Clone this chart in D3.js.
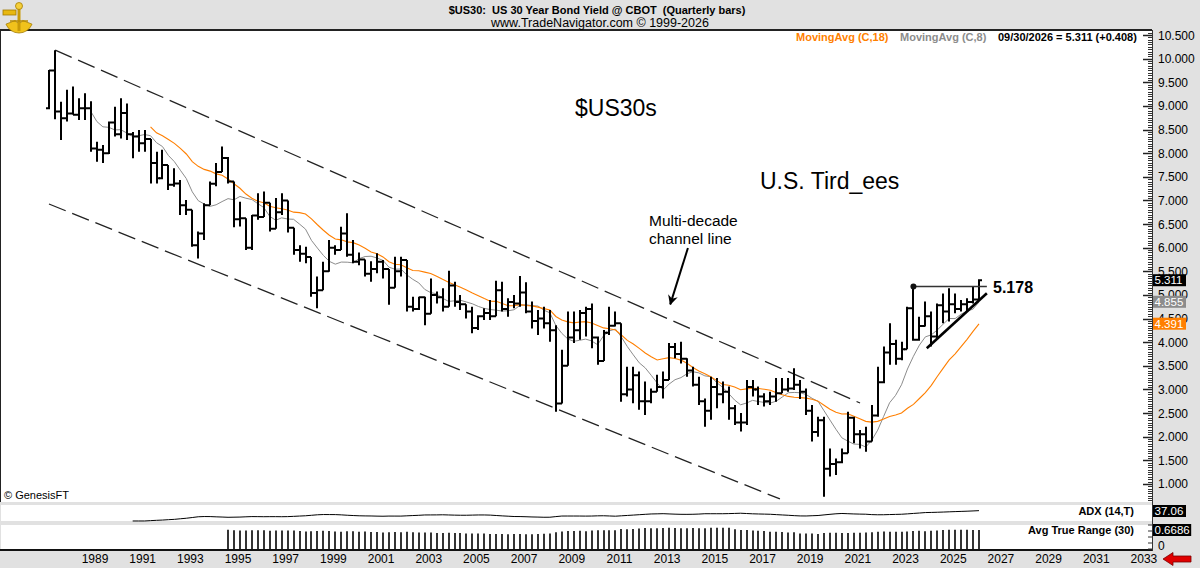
<!DOCTYPE html>
<html>
<head>
<meta charset="utf-8">
<script src="https://cdn.jsdelivr.net/npm/d3@7/dist/d3.min.js"></script>
<style>
  html, body { margin: 0; padding: 0; background: #e1e1e1; }
  svg.drawing { display: block; font-family: Arial, 'Liberation Sans', sans-serif; }
  .pre { white-space: pre; }
</style>
</head>
<body>
<svg class="drawing" width="1200" height="568"></svg>
<script>
// quarterly bars, the first one is 1987 Q3, one row per calendar year
const startYear = 1987
const startQuarter = 3

const opens = [
  8.95, 9.75,
  8.88, 8.74, 8.84, 8.81,  8.95, 8.95, 8.10, 8.07,  8.00, 8.65, 8.40, 8.85,  8.40, 8.35, 8.21, 8.30,
  7.79, 7.47, 7.75, 7.33,  7.36, 6.90, 6.80, 6.05,  6.30, 6.90, 7.35, 7.60,  7.90, 7.40, 6.60, 6.62,
  6.00, 6.68, 6.65, 6.95,  6.40, 6.75, 7.00, 6.42,  5.95, 5.87, 5.80, 5.04,  5.10, 5.50, 6.00, 5.95,
  6.30, 5.85, 5.70, 5.75,  5.45, 5.55, 5.70, 5.55,  5.15, 5.50, 5.74, 4.75,  4.70, 4.95, 4.60, 5.00,
  4.95, 4.75, 5.20, 4.85,  4.80, 4.65, 4.30, 4.55,  4.62, 4.55, 5.10, 4.70,  4.85, 4.82, 5.05, 4.65,
  4.45, 4.50, 4.40, 4.25,  2.70, 3.50, 4.10, 4.25,  4.62, 4.70, 4.10, 3.60,  4.20, 4.35, 4.40, 2.90,
  3.00, 3.30, 2.75, 2.75,  2.95, 3.05, 3.20, 3.90,  3.75, 3.65, 3.40, 3.10,  2.75, 2.55, 3.05, 2.90,
  2.95, 2.60, 2.30, 2.30,  3.05, 3.00, 2.85, 2.75,  2.85, 2.92, 3.00, 3.02,  3.10, 2.95, 2.55, 2.10,
  2.35, 1.32, 1.42, 1.46,  1.65, 2.40, 2.05, 2.05,  1.90, 2.45, 3.15, 3.78,  3.96, 3.65, 3.85, 4.72,
  4.05, 4.34, 4.55, 4.12,  4.78, 4.65, 4.80, 4.70,
  4.80, 4.85, 4.903
]
const highs = [
  9.76, 10.18,
  9.09, 9.34, 9.41, 9.16,  9.27, 9.10, 8.24, 8.17,  8.67, 8.98, 9.16, 9.05,  8.45, 8.49, 8.49, 8.30,
  8.03, 8.07, 7.75, 7.68,  7.43, 7.01, 6.80, 6.34,  6.94, 7.40, 7.79, 8.14,  7.92, 7.40, 6.97, 6.62,
  6.69, 7.15, 7.19, 6.95,  7.05, 7.15, 7.00, 6.42,  6.05, 6.02, 5.80, 5.39,  5.70, 6.16, 6.05, 6.44,
  6.73, 6.16, 5.90, 5.75,  5.71, 5.88, 5.74, 5.55,  5.81, 5.81, 5.74, 4.96,  4.96, 4.96, 5.35, 5.07,
  5.14, 5.51, 5.28, 5.00,  4.80, 4.75, 4.57, 4.72,  4.89, 5.30, 5.28, 4.93,  5.00, 5.40, 5.27, 4.86,
  4.68, 4.75, 4.68, 4.36,  3.84, 4.65, 4.65, 4.68,  4.75, 4.82, 4.12, 4.26,  4.75, 4.65, 4.40, 3.48,
  3.48, 3.38, 3.17, 3.02,  3.31, 3.38, 3.98, 3.98,  4.01, 3.66, 3.48, 3.27,  2.81, 3.27, 3.24, 3.17,
  3.06, 2.67, 2.50, 3.20,  3.20, 3.06, 2.92, 2.95,  3.24, 3.24, 3.24, 3.45,  3.20, 3.02, 2.67, 2.42,
  2.42, 1.75, 1.54, 1.75,  2.53, 2.42, 2.14, 2.21,  2.67, 3.48, 3.91, 4.40,  4.05, 4.01, 4.75, 5.178,
  4.54, 4.86, 4.65, 4.82,  5.03, 5.14, 5.03, 4.89,
  4.93, 5.17, 5.33
]
const lows = [
  8.93, 8.72,
  8.28, 8.67, 8.81, 8.70,  8.70, 8.03, 7.82, 7.79,  7.98, 8.35, 8.31, 8.28,  7.89, 8.03, 8.03, 7.36,
  7.36, 7.45, 7.22, 7.29,  6.69, 6.69, 6.02, 5.77,  6.16, 6.90, 7.30, 7.60,  7.36, 6.43, 6.45, 5.95,
  5.95, 6.59, 6.65, 6.34,  6.40, 6.69, 6.32, 5.85,  5.70, 5.67, 4.96, 4.72,  5.10, 5.49, 5.85, 5.95,
  5.81, 5.67, 5.63, 5.39,  5.28, 5.46, 5.35, 4.79,  5.15, 5.39, 4.65, 4.65,  4.68, 4.36, 4.60, 4.82,
  4.65, 4.75, 4.75, 4.68,  4.50, 4.19, 4.26, 4.47,  4.47, 4.55, 4.65, 4.54,  4.72, 4.75, 4.61, 4.29,
  4.15, 4.29, 4.01, 2.53,  2.70, 3.50, 3.98, 4.05,  4.12, 3.87, 3.52, 3.60,  4.15, 4.33, 2.74, 2.85,
  2.71, 2.57, 2.46, 2.71,  2.95, 2.81, 3.20, 3.66,  3.55, 3.27, 3.06, 2.67,  2.21, 2.36, 2.60, 2.71,
  2.36, 2.25, 2.11, 2.25,  2.85, 2.67, 2.64, 2.67,  2.74, 2.92, 2.95, 2.99,  2.80, 2.46, 1.90, 2.00,
  0.73, 1.16, 1.19, 1.44,  1.65, 1.86, 1.75, 1.68,  1.90, 2.42, 3.13, 3.52,  3.52, 3.62, 3.85, 4.03,
  4.03, 4.33, 3.91, 4.08,  4.40, 4.44, 4.61, 4.65,
  4.65, 4.82, 4.89
]
const closes = [
  9.75, 8.88,
  8.74, 8.84, 8.81, 8.95,  8.95, 8.10, 8.07, 8.00,  8.65, 8.40, 8.85, 8.40,  8.35, 8.21, 8.30, 7.79,
  7.47, 7.75, 7.33, 7.36,  6.90, 6.80, 6.05, 6.30,  6.90, 7.35, 7.60, 7.90,  7.40, 6.60, 6.62, 6.00,
  6.68, 6.65, 6.95, 6.40,  6.75, 7.00, 6.42, 5.95,  5.87, 5.80, 5.04, 5.10,  5.50, 6.00, 5.95, 6.30,
  5.85, 5.70, 5.75, 5.45,  5.55, 5.70, 5.55, 5.15,  5.50, 5.74, 4.75, 4.70,  4.95, 4.60, 5.00, 4.95,
  4.75, 5.20, 4.85, 4.80,  4.65, 4.30, 4.55, 4.62,  4.55, 5.10, 4.70, 4.85,  4.82, 5.05, 4.65, 4.45,
  4.50, 4.40, 4.25, 2.70,  3.50, 4.10, 4.25, 4.62,  4.70, 4.10, 3.60, 4.20,  4.35, 4.40, 2.90, 3.00,
  3.30, 2.75, 2.75, 2.95,  3.05, 3.20, 3.90, 3.75,  3.65, 3.40, 3.10, 2.75,  2.55, 3.05, 2.90, 2.95,
  2.60, 2.30, 2.30, 3.05,  3.00, 2.85, 2.75, 2.85,  2.92, 3.00, 3.02, 3.10,  2.95, 2.55, 2.10, 2.35,
  1.32, 1.42, 1.46, 1.65,  2.40, 2.05, 2.05, 1.90,  2.45, 3.15, 3.78, 3.96,  3.65, 3.85, 4.72, 4.05,
  4.34, 4.55, 4.12, 4.78,  4.65, 4.80, 4.70, 4.80,
  4.85, 4.903, 5.311
]

const yearLabels = [1989, 1991, 1993, 1995, 1997, 1999, 2001, 2003, 2005, 2007, 2009, 2011,
  2013, 2015, 2017, 2019, 2021, 2023, 2025, 2027, 2029, 2031, 2033]

// readouts printed on the chart
const lastDate = '09/30/2026'
const lastClose = 5.311
const lastChange = 0.408
const lastMa18 = 4.391
const lastMa8 = 4.855
const lastAdx = 37.06
const lastAtr = 0.6686
const triangleTop = 5.178

// drawn lines, [year, yield]
const upperChannel = [[1987.75, 10.18], [2021.51, 2.713]]
const lowerChannel = [[1987.49, 6.924], [2018.15, 0.682]]
const risingLine = [[2024.31, 3.871], [2026.83, 5.035]]
const flatLine = [[2023.75, 5.178], [2026.83, 5.178]]
const noteArrow = [[2014.29, 5.993], [2013.55, 4.80]]

const plotRight = 1152
const panels = {
  main: { top: 31, bottom: 502 },
  adx: { top: 505, bottom: 521 },
  atr: { top: 525, bottom: 549 }
}
const colors = {
  band: '#e1e1e1',
  orange: '#ff7f00',
  gray: '#8c8c8c'
}

const bars = closes.map((c, i) => ({
  t: startYear + (startQuarter - 1 + i) / 4,
  open: opens[i],
  high: highs[i],
  low: lows[i],
  close: c
}))

const sma = (values, n) => values.map((v, i) => i < n - 1 ? null : d3.mean(values.slice(i - n + 1, i + 1)))
const ma18 = sma(closes, 18)
const ma8 = sma(closes, 8)

const trueRange = bars.map((d, i) => i === 0
  ? null
  : Math.max(d.high, bars[i - 1].close) - Math.min(d.low, bars[i - 1].close))
const atr30 = trueRange.map((v, i) => i < 30 ? null : d3.mean(trueRange.slice(i - 29, i + 1)))

const buildAdx = n => {
  const out = bars.map(() => null)
  let sTr = 0, sPlus = 0, sMinus = 0, a = 0
  for (let i = 1; i < bars.length; i++) {
    const up = bars[i].high - bars[i - 1].high
    const down = bars[i - 1].low - bars[i].low
    const plus = up > down && up > 0 ? up : 0
    const minus = down > up && down > 0 ? down : 0
    if (i <= n) {
      sTr += trueRange[i]; sPlus += plus; sMinus += minus
    } else {
      sTr = sTr - sTr / n + trueRange[i]
      sPlus = sPlus - sPlus / n + plus
      sMinus = sMinus - sMinus / n + minus
    }
    if (i < n) continue
    const pdi = 100 * sPlus / sTr
    const mdi = 100 * sMinus / sTr
    const dx = pdi + mdi === 0 ? 0 : 100 * Math.abs(pdi - mdi) / (pdi + mdi)
    a = a + (dx - a) / n
    out[i] = a
  }
  return out
}
const adx14 = buildAdx(14)

// scales
const x = d3.scaleLinear().domain([1985.435, 2033.757]).range([0, plotRight])
const y = d3.scaleLinear().domain([0.618, 10.606]).range([502, 30])
const yAdx = d3.scaleLinear().domain([0, 60]).range([panels.adx.bottom, panels.adx.top])
const yAtr = d3.scaleLinear().domain([0, 0.8]).range([panels.atr.bottom, panels.atr.top])

const svg = d3.select('svg.drawing')

// frame
svg.append('rect').attr('width', 1200).attr('height', 568).attr('fill', colors.band)
Object.values(panels).forEach(p => {
  svg.append('rect')
    .attr('x', 1).attr('y', p.top)
    .attr('width', plotRight - 1).attr('height', p.bottom - p.top)
    .attr('fill', '#fff')
})
svg.append('line').attr('x1', 0).attr('x2', plotRight).attr('y1', 30).attr('y2', 30)
  .attr('stroke', '#222').attr('stroke-width', 2)
svg.append('line').attr('x1', 0.5).attr('x2', 0.5).attr('y1', 30).attr('y2', panels.main.bottom)
  .attr('stroke', '#222')
svg.append('line').attr('x1', 0).attr('x2', plotRight).attr('y1', 550).attr('y2', 550)
  .attr('stroke', '#111').attr('stroke-width', 2)
svg.append('line').attr('x1', plotRight + 0.5).attr('x2', plotRight + 0.5).attr('y1', 30).attr('y2', 551)
  .attr('stroke', '#333')

// header
const logo = svg.append('g').attr('transform', 'translate(19, 19)')
logo.append('path')
  .attr('d', d3.arc()({ innerRadius: 4, outerRadius: 14, startAngle: Math.PI * 0.62, endAngle: Math.PI * 1.38 }))
  .attr('fill', '#f0c21c').attr('stroke', '#a47c00').attr('stroke-width', 0.8)
logo.append('rect').attr('x', -16).attr('y', -9).attr('width', 13).attr('height', 5)
  .attr('fill', '#e8b810').attr('stroke', '#a47c00').attr('stroke-width', 0.8)
logo.append('line').attr('x1', 0).attr('x2', 0).attr('y1', -14).attr('y2', 12)
  .attr('stroke', '#c89a08').attr('stroke-width', 3)
logo.append('circle').attr('cx', 0).attr('cy', -13).attr('r', 3.5)
  .attr('fill', '#f5cf3a').attr('stroke', '#a47c00').attr('stroke-width', 0.8)
logo.append('line').attr('x1', -9).attr('x2', 9).attr('y1', 2).attr('y2', 2)
  .attr('stroke', '#b88d05').attr('stroke-width', 1.5)

svg.append('text').attr('class', 'pre')
  .attr('x', 597).attr('y', 13.5).attr('text-anchor', 'middle')
  .attr('font-size', 11).attr('font-weight', 'bold')
  .text('$US30:  US 30 Year Bond Yield @ CBOT  (Quarterly bars)')
svg.append('text')
  .attr('x', 600).attr('y', 27).attr('text-anchor', 'middle')
  .attr('font-size', 12.5)
  .text('www.TradeNavigator.com © 1999-2026')

// legend
const legend = svg.append('g').attr('font-size', 11).attr('font-weight', 'bold')
legend.append('text').attr('x', 796).attr('y', 41).attr('fill', colors.orange).text('MovingAvg (C,18)')
legend.append('text').attr('x', 900).attr('y', 41).attr('fill', colors.gray).text('MovingAvg (C,8)')
legend.append('text').attr('x', 998).attr('y', 41).attr('fill', '#000')
  .text(`${lastDate} = ${lastClose.toFixed(3)} (+${lastChange.toFixed(3)})`)

// channel lines
const line2 = d3.line().x(d => x(d[0])).y(d => y(d[1]))
const main = svg.append('g')
main.selectAll('path.channel').data([upperChannel, lowerChannel]).enter()
  .append('path').attr('class', 'channel')
  .attr('d', line2)
  .attr('fill', 'none').attr('stroke', '#222').attr('stroke-width', 1.3)
  .attr('stroke-dasharray', '18,7')

// moving averages
const maLine = series => d3.line()
  .defined((d, i) => series[i] !== null)
  .x(d => x(d.t))
  .y((d, i) => y(series[i]))
main.append('path').datum(bars).attr('d', maLine(ma8))
  .attr('fill', 'none').attr('stroke', colors.gray).attr('stroke-width', 1)
main.append('path').datum(bars).attr('d', maLine(ma18))
  .attr('fill', 'none').attr('stroke', colors.orange).attr('stroke-width', 1.1)

// price bars
main.append('g').attr('class', 'bars')
  .selectAll('path').data(bars).enter()
  .append('path')
  .attr('d', d => {
    const cx = Math.round(x(d.t))
    return `M${cx},${y(d.high)}V${y(d.low)}` +
      `M${cx - 3},${y(d.open)}H${cx}` +
      `M${cx},${y(d.close)}H${cx + 3}`
  })
  .attr('fill', 'none').attr('stroke', '#000').attr('stroke-width', 2)

// triangle on the latest bars
main.append('path').datum(flatLine).attr('d', line2)
  .attr('stroke', '#333').attr('stroke-width', 1.5)
main.append('circle').attr('cx', x(flatLine[0][0])).attr('cy', y(triangleTop)).attr('r', 3)
  .attr('fill', '#111')
main.append('path').datum(risingLine).attr('d', line2)
  .attr('stroke', '#000').attr('stroke-width', 2.6)
main.append('text').attr('x', 993).attr('y', y(triangleTop) + 6)
  .attr('font-size', 16).attr('font-weight', 'bold').text(triangleTop.toFixed(3))

// notes
main.append('text').attr('x', 575).attr('y', 116).attr('font-size', 23).text('$US30s')
main.append('text').attr('x', 760).attr('y', 189).attr('font-size', 23).text('U.S. Tird_ees')
main.append('text').attr('x', 649).attr('y', 226).attr('font-size', 15.5).text('Multi-decade')
main.append('text').attr('x', 649).attr('y', 244).attr('font-size', 15.5).text('channel line')
const defs = svg.append('defs')
defs.append('marker').attr('id', 'head')
  .attr('viewBox', '0 0 10 10').attr('refX', 9).attr('refY', 5)
  .attr('markerWidth', 5).attr('markerHeight', 5).attr('orient', 'auto')
  .append('path').attr('d', 'M0,0L10,5L0,10L3,5Z').attr('fill', '#000')
main.append('path').datum(noteArrow).attr('d', line2)
  .attr('stroke', '#000').attr('stroke-width', 2).attr('marker-end', 'url(#head)')
main.append('text').attr('x', 4).attr('y', 499).attr('font-size', 11).text('© GenesisFT')

// right price axis
const axis = svg.append('g')
const minor = y.ticks(200).filter(v => v > 0.64 && v < 10.6)
const major = y.ticks(20).filter(v => v >= 1 && v <= 10.5)
axis.selectAll('line.minor').data(minor).enter().append('line')
  .attr('x1', plotRight - 4).attr('x2', plotRight)
  .attr('y1', d => Math.round(y(d)) + 0.5).attr('y2', d => Math.round(y(d)) + 0.5)
  .attr('stroke', '#333')
axis.selectAll('line.major').data(major).enter().append('line')
  .attr('x1', plotRight - 9).attr('x2', plotRight)
  .attr('y1', d => Math.round(y(d)) + 0.5).attr('y2', d => Math.round(y(d)) + 0.5)
  .attr('stroke', '#222').attr('stroke-width', 1.5)
axis.selectAll('text').data(major).enter().append('text')
  .attr('x', 1158).attr('y', d => y(d) + 4.5)
  .attr('font-size', 12).text(d3.format('.3f'))

// value flags on the axis, sized to their text
const flag = (value, yPos, fill, fmt) => {
  const g = svg.append('g').attr('transform', `translate(1153, ${yPos})`)
  const rect = g.append('rect').attr('x', 0).attr('y', -6).attr('height', 12).attr('fill', fill)
  const label = g.append('text').attr('x', 1.5).attr('y', 4.2)
    .attr('font-size', 11.5).attr('fill', '#fff').text(fmt(value))
  const w = label.node().getComputedTextLength()
  rect.attr('width', Math.max(33, w + 3))
}
flag(lastClose, y(lastClose), '#000', d3.format('.3f'))
flag(lastMa8, y(lastMa8), colors.gray, d3.format('.3f'))
flag(lastMa18, y(lastMa18), colors.orange, d3.format('.3f'))

// ADX panel
svg.append('path').datum(bars)
  .attr('d', d3.line()
    .defined((d, i) => adx14[i] !== null)
    .x(d => x(d.t))
    .y((d, i) => yAdx(adx14[i])))
  .attr('fill', 'none').attr('stroke', '#000').attr('stroke-width', 1)
svg.append('text').attr('x', 1134).attr('y', 515).attr('text-anchor', 'end')
  .attr('font-size', 11).attr('font-weight', 'bold').text('ADX (14,T)')
flag(lastAdx, 511, '#000', d3.format('.2f'))

// ATR panel
svg.append('g').selectAll('line').data(bars.filter((d, i) => atr30[i] !== null)).enter()
  .append('line')
  .attr('x1', d => Math.round(x(d.t))).attr('x2', d => Math.round(x(d.t)))
  .attr('y1', yAtr(0)).attr('y2', d => yAtr(atr30[bars.indexOf(d)]))
  .attr('stroke', '#000').attr('stroke-width', 1.6)
svg.append('text').attr('x', 1134).attr('y', 534).attr('text-anchor', 'end')
  .attr('font-size', 11).attr('font-weight', 'bold').text('Avg True Range (30)')
flag(lastAtr, 530, '#000', d3.format('.4f'))
svg.append('text').attr('x', 1158).attr('y', 550).attr('font-size', 12).text('0')
svg.selectAll('line.atrtick').data(yAtr.ticks(4)).enter().append('line')
  .attr('x1', plotRight - 4).attr('x2', plotRight)
  .attr('y1', d => yAtr(d)).attr('y2', d => yAtr(d))
  .attr('stroke', '#333')

// time axis
svg.append('g').selectAll('text').data(yearLabels).enter()
  .append('text')
  .attr('x', d => x(d) + 10).attr('y', 563)
  .attr('text-anchor', 'middle').attr('font-size', 12)
  .text(d => d)

// red scroll arrow
svg.append('path')
  .attr('d', 'M1163,559L1173,552.5V556H1191V562H1173V565.5Z')
  .attr('fill', '#e00000').attr('stroke', '#7a0000').attr('stroke-width', 0.8)
</script>
</body>
</html>
